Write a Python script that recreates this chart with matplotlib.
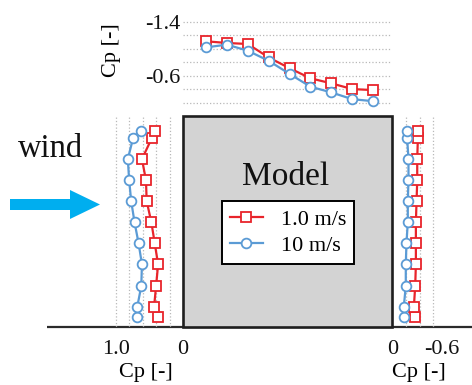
"""
Wind-pressure coefficient around a block model: roof (top), windward wall (left)
and leeward wall (right), two wind speeds.
"""
import matplotlib
matplotlib.use("Agg")
import matplotlib.pyplot as plt
import matplotlib.transforms as mtransforms
from matplotlib.patches import Rectangle, FancyArrow

plt.rcParams["font.family"] = ["Liberation Serif", "DejaVu Serif"]
plt.rcParams["axes.unicode_minus"] = False

# ---- data ----
SERIES = ["1.0 m/s", "10 m/s"]

# roof: position along roof (fraction of width), Cp
roof_pos = [0.11, 0.21, 0.31, 0.41, 0.51, 0.61, 0.71, 0.81, 0.91]
roof_cp_1 = [-1.11, -1.085, -1.07, -0.87, -0.71, -0.56, -0.485, -0.40, -0.385]
roof_cp_10 = [-1.02, -1.06, -0.97, -0.82, -0.625, -0.435, -0.35, -0.25, -0.22]

# walls: height (fraction of model height, bottom to top), Cp
wall_h = [0.046, 0.095, 0.194, 0.297, 0.397, 0.496, 0.597, 0.695, 0.796, 0.897, 0.930]
wind_cp_1 = [0.37, 0.43, 0.40, 0.37, 0.42, 0.47, 0.54, 0.55, 0.61, 0.46, 0.42]
wind_cp_10 = [0.69, 0.68, 0.62, 0.61, 0.66, 0.72, 0.77, 0.80, 0.82, 0.74, 0.63]
lee_cp_1 = [-0.32, -0.31, -0.33, -0.34, -0.34, -0.34, -0.35, -0.36, -0.36, -0.37, -0.37]
lee_cp_10 = [-0.16, -0.16, -0.19, -0.19, -0.20, -0.22, -0.22, -0.23, -0.23, -0.21, -0.21]

RED = "#e8242b"
BLUE = "#5b9bd5"
GRID = "#b8b8b8"

W, H = 472, 385
fig = plt.figure(figsize=(W / 100, H / 100), dpi=100)


def px_axes(x0, y0, x1, y1):
    # pixel box (top-left origin) -> figure axes
    return fig.add_axes([x0 / W, 1 - y1 / H, (x1 - x0) / W, (y1 - y0) / H])


# ---- background drawing in pixel coordinates ----
bg = px_axes(0, 0, W, H)
bg.set_xlim(0, W)
bg.set_ylim(H, 0)
bg.axis("off")

BX0, BX1, BY0, BY1 = 183, 392, 116, 327   # model box
bg.add_patch(Rectangle((BX0, BY0), BX1 - BX0, BY1 - BY0, facecolor="#d3d3d3",
                       edgecolor="#1e1e1e", linewidth=1.9, zorder=2))
bg.plot([47, W], [BY1, BY1], color="#2b2b2b", linewidth=1.6, zorder=1,
        solid_capstyle="butt")
bg.add_patch(FancyArrow(10, 204.5, 60, 0, width=11, head_width=29,
                        head_length=30, length_includes_head=False,
                        color="#00aeef", linewidth=0))
bg.text(18, 157, "wind", fontsize=23.5, ha="left", va="baseline", color="#111")
bg.text(286, 185, "Model", fontsize=24, ha="center", va="baseline", color="#111")

SCALE = 67.3  # px per unit Cp


def style(ax):
    for s in ax.spines.values():
        s.set_visible(False)
    ax.patch.set_alpha(0)
    ax.tick_params(length=0, labelsize=16, colors="#111")
    ax.set_axisbelow(True)


line_kw = dict(linewidth=1.6, clip_on=False, zorder=3)
sq_kw = dict(marker="s", markersize=6.5, markerfacecolor="white",
             markeredgecolor=RED, markeredgewidth=1.3, color=RED)
ci_kw = dict(marker="o", markersize=7, markerfacecolor="white",
             markeredgecolor=BLUE, markeredgewidth=1.3, color=BLUE)

# ---- roof ----
top_y0 = BY0 - 1.52 * SCALE
ax_t = px_axes(BX0, top_y0, BX1, BY0)
style(ax_t)
ax_t.set_xlim(0, 1)
ax_t.set_ylim(0, -1.52)
ax_t.set_xticks([])
ax_t.set_yticks([-0.2, -0.4, -0.6, -0.8, -1.0, -1.2, -1.4])
ax_t.set_yticklabels(["", "", "-0.6", "", "", "", "-1.4"])
ax_t.tick_params(axis="y", pad=2)
ax_t.grid(axis="y", color=GRID, linestyle=":", linewidth=0.9)
ax_t.plot(roof_pos, roof_cp_1, **sq_kw, **line_kw)
ax_t.plot(roof_pos, roof_cp_10, **ci_kw, **line_kw)
ax_t.set_ylabel("Cp [-]", fontsize=16)
ax_t.yaxis.set_label_coords(-0.297, 0.644)

# ---- windward wall ----
ax_l = px_axes(BX0 - 1.1 * SCALE, BY0, BX0, BY1)
style(ax_l)
ax_l.set_ylim(0, 1)
ax_l.set_xlim(1.1, 0)
ax_l.set_yticks([])
ax_l.set_xticks([0, 0.2, 0.4, 0.6, 0.8, 1.0])
ax_l.set_xticklabels(["0", "", "", "", "", "1.0"])
ax_l.tick_params(axis="x", pad=9)
ax_l.grid(axis="x", color=GRID, linestyle=":", linewidth=0.9)
ax_l.get_xgridlines()[0].set_visible(False)
h1, = ax_l.plot(wind_cp_1, wall_h, label=SERIES[0], **sq_kw, **line_kw)
h2, = ax_l.plot(wind_cp_10, wall_h, label=SERIES[1], **ci_kw, **line_kw)
ax_l.set_xlabel("Cp [-]", fontsize=16)
ax_l.xaxis.set_label_coords(0.5, -0.171)

# ---- leeward wall ----
ax_r = px_axes(BX1 + 1, BY0, BX1 + 1 + 0.78 * SCALE, BY1)
style(ax_r)
ax_r.set_ylim(0, 1)
ax_r.set_xlim(0, -0.78)
ax_r.set_yticks([])
ax_r.set_xticks([0, -0.2, -0.4, -0.6])
ax_r.set_xticklabels(["0", "", "", "-0.6"])
ax_r.tick_params(axis="x", pad=9)
ax_r.grid(axis="x", color=GRID, linestyle=":", linewidth=0.9)
ax_r.get_xgridlines()[0].set_visible(False)
shift = mtransforms.ScaledTranslation(8 / 100, 0, fig.dpi_scale_trans)
lab = ax_r.get_xticklabels()[3]
lab.set_transform(lab.get_transform() + shift)
ax_r.plot(lee_cp_1, wall_h, **sq_kw, **line_kw)
ax_r.plot(lee_cp_10, wall_h, **ci_kw, **line_kw)
ax_r.set_xlabel("Cp [-]", fontsize=16)
ax_r.xaxis.set_label_coords(0.5, -0.171)

# ---- legend inside the model ----
leg = ax_l.legend(handles=[h1, h2], loc="center",
                  bbox_to_anchor=(288 / W, 1 - 232.5 / H),
                  bbox_transform=fig.transFigure, fontsize=16, frameon=True,
                  fancybox=False, edgecolor="black", framealpha=1,
                  handlelength=1.5, handletextpad=0.8, borderpad=0.35,
                  labelspacing=0.25, borderaxespad=0)
leg.get_frame().set_linewidth(1.4)

fig.savefig("out.png", dpi=100)
